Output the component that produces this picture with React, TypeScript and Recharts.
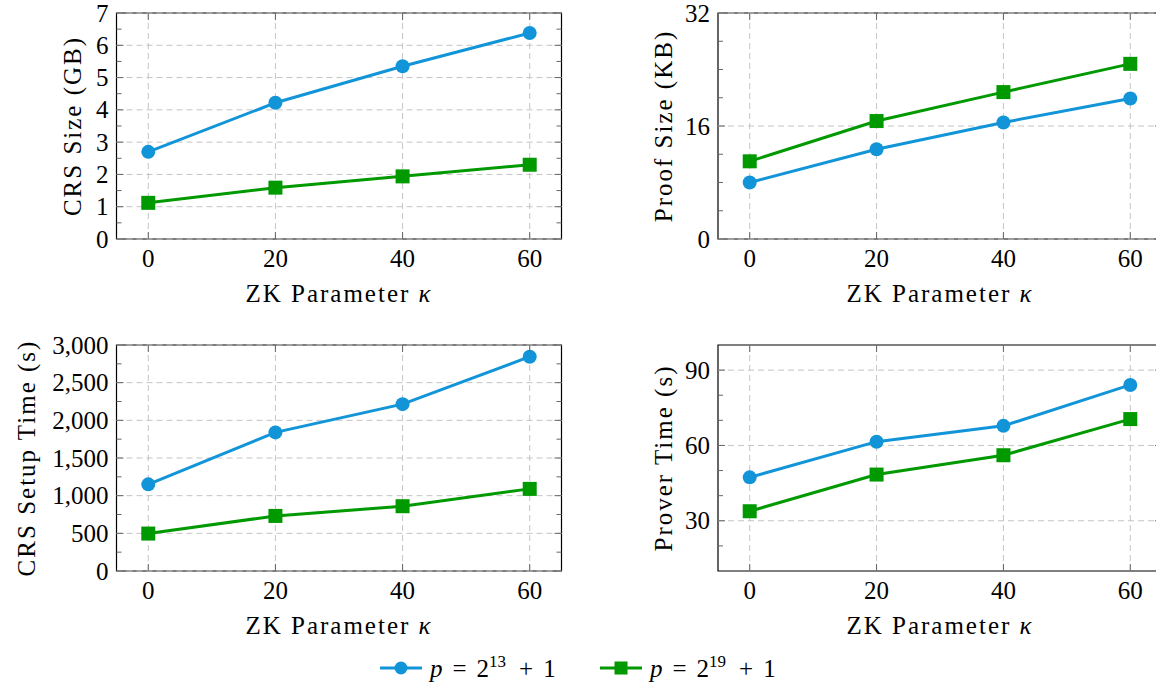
import React from 'react';
import { LineChart, Line, XAxis, YAxis, ReferenceLine, ReferenceArea, Label } from 'recharts';

// ---- data ----
const kappa = [0, 20, 40, 60];
const xTicks = [0, 20, 40, 60];

const crsSizeP13 = [2.7, 4.22, 5.35, 6.38];
const crsSizeP19 = [1.12, 1.59, 1.94, 2.3];
const crsSizeMajor = [0, 1, 2, 3, 4, 5, 6, 7];
const crsSizeMinor = [0.5, 1.5, 2.5, 3.5, 4.5, 5.5, 6.5];

const proofSizeP13 = [8.0, 12.7, 16.5, 19.9];
const proofSizeP19 = [11.0, 16.7, 20.8, 24.8];
const proofSizeMajor = [0, 16, 32];
const proofSizeMinor = [4, 8, 12, 20, 24, 28];

const setupTimeP13 = [1150, 1840, 2215, 2845];
const setupTimeP19 = [497, 731, 860, 1090];
const setupTimeMajor = [0, 500, 1000, 1500, 2000, 2500, 3000];
const setupTimeMinor = [250, 750, 1250, 1750, 2250, 2750];

const proverTimeP13 = [47.3, 61.5, 67.8, 84.1];
const proverTimeP19 = [33.8, 48.4, 56.1, 70.5];
const proverTimeMajor = [30, 60, 90];
const proverTimeMinor = [20, 40, 50, 70, 80];

const seriesExponents = ['13', '19'];
const seriesColors = ['#1295d8', '#009900'];
const seriesShapes = ['circle', 'square'];

// ---- styles ----
const FONT = '"Liberation Serif", "Times New Roman", serif';
const FS = 25;
const GRID = '#c4c4c4';
const TICK = '#666666';
const W = 1170;
const H = 682;

type Cfg = {
  left: number; right: number; top: number; bottom: number;
  domainY: [number, number];
  majors: number[]; minors: number[];
  yLabel: string; yLabelX: number;
  s1: number[]; s2: number[];
  fmt: (v: number) => string;
};

const plain = (v: number) => String(v);
const comma = (v: number) => v.toLocaleString('en-US');

const panels: Cfg[] = [
  { left: 116.5, right: 561.5, top: 13, bottom: 239, domainY: [0, 7], majors: crsSizeMajor, minors: crsSizeMinor,
    yLabel: 'CRS Size (GB)', yLabelX: 81, s1: crsSizeP13, s2: crsSizeP19, fmt: plain },
  { left: 718, right: 1162, top: 13, bottom: 239, domainY: [0, 32], majors: proofSizeMajor, minors: proofSizeMinor,
    yLabel: 'Proof Size (KB)', yLabelX: 672, s1: proofSizeP13, s2: proofSizeP19, fmt: plain },
  { left: 116.5, right: 561.5, top: 345, bottom: 571, domainY: [0, 3000], majors: setupTimeMajor, minors: setupTimeMinor,
    yLabel: 'CRS Setup Time (s)', yLabelX: 35, s1: setupTimeP13, s2: setupTimeP19, fmt: comma },
  { left: 718, right: 1162, top: 345, bottom: 571, domainY: [10, 100], majors: proverTimeMajor, minors: proverTimeMinor,
    yLabel: 'Prover Time (s)', yLabelX: 672, s1: proverTimeP13, s2: proverTimeP19, fmt: plain },
];

const Circle = (props: any) => {
  const { cx, cy, fill } = props;
  if (cx == null || cy == null) return null;
  return <circle cx={cx} cy={cy} r={7} fill={fill} />;
};
const Square = (props: any) => {
  const { cx, cy, fill } = props;
  if (cx == null || cy == null) return null;
  return <rect x={cx - 7} y={cy - 7} width={14} height={14} fill={fill} />;
};

function Panel({ cfg }: { cfg: Cfg }) {
  const data = kappa.map((k, i) => ({ k, a: cfg.s1[i], b: cfg.s2[i] }));
  const plotW = cfg.right - cfg.left;
  const plotH = cfg.bottom - cfg.top;
  const majorSet = new Set(cfg.majors);
  const yTickValues = [...cfg.majors, ...cfg.minors].sort((a, b) => a - b);

  const renderYTick = (props: any) => {
    const { x, y, payload } = props;
    const v = payload.value;
    const major = majorSet.has(v);
    const len = major ? 7 : 5;
    return (
      <g>
        <line x1={x} x2={x + len} y1={y} y2={y} stroke={TICK} strokeWidth={1} />
        <line x1={x + plotW - len} x2={x + plotW} y1={y} y2={y} stroke={TICK} strokeWidth={1} />
        {major && (
          <text x={x - 8} y={y + 8.5} textAnchor="end" fontFamily={FONT} fontSize={FS} fill="#000">
            {cfg.fmt(v)}
          </text>
        )}
      </g>
    );
  };

  const renderXTick = (props: any) => {
    const { x, y, payload } = props;
    return (
      <g>
        <line x1={x} x2={x} y1={y} y2={y - 7} stroke={TICK} strokeWidth={1} />
        <line x1={x} x2={x} y1={y - plotH} y2={y - plotH + 7} stroke={TICK} strokeWidth={1} />
        <text x={x} y={y + 28} textAnchor="middle" fontFamily={FONT} fontSize={FS} fill="#000">
          {payload.value}
        </text>
      </g>
    );
  };

  const XLab = () => (
    <text x={cfg.left + plotW / 2} y={cfg.bottom + 63} textAnchor="middle" fontFamily={FONT} fontSize={FS}
      letterSpacing={2} fill="#000">
      {'ZK Parameter '}
      <tspan fontStyle="italic">{'\u03BA'}</tspan>
    </text>
  );

  const cy = cfg.top + plotH / 2;
  const YLab = () => (
    <text x={cfg.yLabelX} y={cy} transform={`rotate(-90, ${cfg.yLabelX}, ${cy})`} textAnchor="middle"
      fontFamily={FONT} fontSize={FS} letterSpacing={2} fill="#000">
      {cfg.yLabel}
    </text>
  );

  return (
    <div style={{ position: 'absolute', left: 0, top: 0 }}>
      <LineChart width={W} height={H} data={data}
        margin={{ top: cfg.top, left: cfg.left - 1, right: W - cfg.right, bottom: H - cfg.bottom - 1 }}>
        <XAxis type="number" dataKey="k" domain={[-5, 65]} ticks={xTicks} interval={0} tick={renderXTick}
          tickLine={false} axisLine={false} tickSize={0} tickMargin={0} height={1} allowDataOverflow
          label={<Label content={XLab} />} />
        <YAxis type="number" domain={cfg.domainY} ticks={yTickValues} interval={0} tick={renderYTick}
          tickLine={false} axisLine={false} tickSize={0} tickMargin={0} width={1} allowDataOverflow
          label={<Label content={YLab} />} />
        {cfg.majors.map((v) => (
          <ReferenceLine key={'h' + v} y={v} stroke={GRID} strokeWidth={1} strokeDasharray="6 4" />
        ))}
        {xTicks.map((v) => (
          <ReferenceLine key={'v' + v} x={v} stroke={GRID} strokeWidth={1} strokeDasharray="6 4" />
        ))}
        <ReferenceArea x1={-5} x2={65} y1={cfg.domainY[0]} y2={cfg.domainY[1]} fill="none" fillOpacity={0}
          stroke="#000" strokeWidth={1.2} />
        <Line dataKey="a" stroke={seriesColors[0]} strokeWidth={3} isAnimationActive={false}
          dot={<Circle fill={seriesColors[0]} />} />
        <Line dataKey="b" stroke={seriesColors[1]} strokeWidth={3} isAnimationActive={false}
          dot={<Square fill={seriesColors[1]} />} />
      </LineChart>
    </div>
  );
}

function LegendBox() {
  const starts = [380, 600];
  return (
    <svg width={1156} height={682} style={{ position: 'absolute', left: 0, top: 0, pointerEvents: 'none' }}>
      {seriesExponents.map((e, i) => {
        const x0 = starts[i];
        const c = seriesColors[i];
        return (
          <g key={e}>
            <line x1={x0} x2={x0 + 42} y1={668} y2={668} stroke={c} strokeWidth={3} />
            {seriesShapes[i] === 'circle' ? (
              <circle cx={x0 + 21} cy={668} r={6.5} fill={c} />
            ) : (
              <rect x={x0 + 21 - 6.5} y={668 - 6.5} width={13} height={13} fill={c} />
            )}
            <text x={x0 + 50} y={677} fontFamily={FONT} fontSize={FS} fill="#000">
              <tspan fontStyle="italic">p</tspan>
              <tspan dx={10}>=</tspan>
              <tspan dx={10}>2</tspan>
              <tspan dy={-10} fontSize={17}>{e}</tspan>
              <tspan dy={10} dx={13}>+</tspan>
              <tspan dx={10}>1</tspan>
            </text>
          </g>
        );
      })}
    </svg>
  );
}

export default function App() {
  return (
    <div style={{ position: 'absolute', left: 0, top: 0, width: 1156, height: 682, overflow: 'hidden', background: '#fff' }}>
      {panels.map((p, i) => (
        <Panel key={i} cfg={p} />
      ))}
      <LegendBox />
    </div>
  );
}
